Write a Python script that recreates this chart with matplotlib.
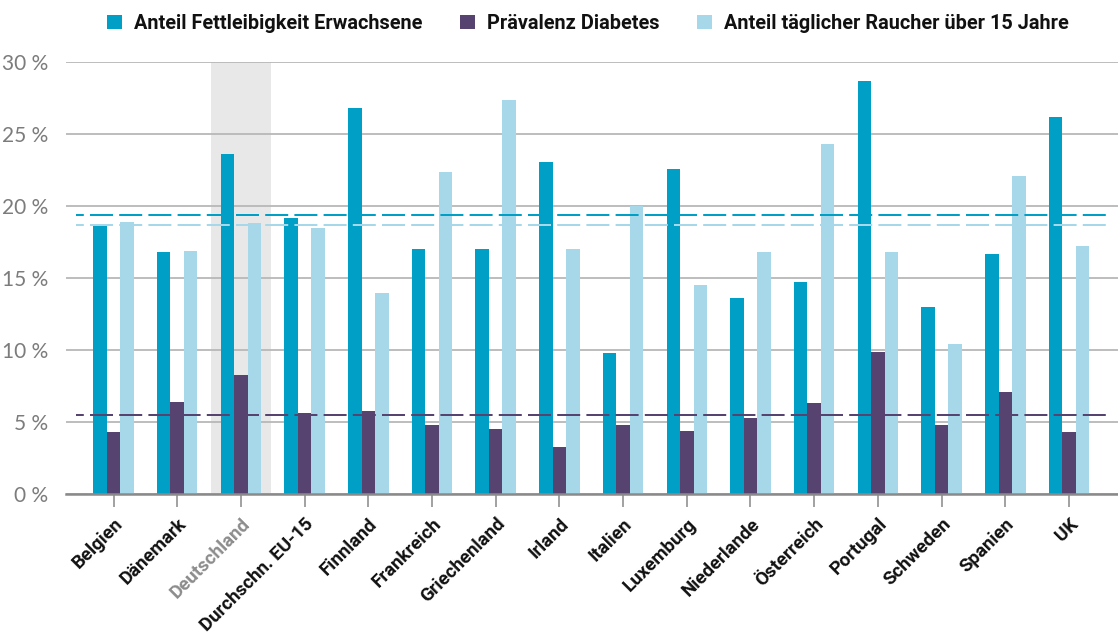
import numpy as np
import matplotlib
matplotlib.use("Agg")
import matplotlib.pyplot as plt

laender = ["Belgien", "Dänemark", "Deutschland", "Durchschn. EU-15", "Finnland",
           "Frankreich", "Griechenland", "Irland", "Italien", "Luxemburg",
           "Niederlande", "Österreich", "Portugal", "Schweden", "Spanien", "UK"]

fettleibigkeit = [18.6, 16.8, 23.6, 19.2, 26.8, 17.0, 17.0, 23.1, 9.8, 22.6,
                  13.6, 14.7, 28.7, 13.0, 16.7, 26.2]
diabetes = [4.3, 6.4, 8.3, 5.6, 5.8, 4.8, 4.5, 3.3, 4.8, 4.4,
            5.3, 6.3, 9.9, 4.8, 7.1, 4.3]
raucher = [18.9, 16.9, 18.8, 18.5, 14.0, 22.4, 27.4, 17.0, 20.0, 14.5,
           16.8, 24.3, 16.8, 10.4, 22.1, 17.2]

# Referenzlinien (EU-15-Durchschnitt)
ref_fett = 19.4
ref_raucher = 18.7
ref_diabetes = 5.5

serien = ["Anteil Fettleibigkeit Erwachsene", "Prävalenz Diabetes",
          "Anteil täglicher Raucher über 15 Jahre"]
farben = ["#00A0C6", "#574370", "#A6D8EA"]
y_ticks = [0, 5, 10, 15, 20, 25, 30]

bold_font = ["Roboto", "DejaVu Sans"]
light_font = ["Lato", "DejaVu Sans"]

fig = plt.figure(figsize=(11.18, 6.39), dpi=100)
ax = fig.add_axes([66 / 1118, 145 / 639, 1052 / 1118, (494 - 62.3) / 639])

x = np.arange(len(laender))
w = 0.212

# Hervorhebung Deutschland
i_de = laender.index("Deutschland")
ax.axvspan(i_de - 0.47, i_de + 0.47, color="#E8E8E8", zorder=0, lw=0)

bars = []
for k, (werte, farbe) in enumerate(zip([fettleibigkeit, diabetes, raucher], farben)):
    b = ax.bar(x + (k - 1) * w, werte, width=w, color=farbe, zorder=2, lw=0)
    bars.append(b)

# gestrichelte Durchschnittslinien
lw = 2.0 * 72 / 100
ls = (7.6, (11.5, 3.1))
for wert, farbe in [(ref_fett, farben[0]), (ref_raucher, farben[2]), (ref_diabetes, farben[1])]:
    ax.plot([-0.59, 15.59], [wert, wert], color=farbe, lw=lw, linestyle=ls, zorder=3)

ax.set_xlim(-0.746, 15.77)
ax.set_ylim(0, 30)
ax.set_yticks(y_ticks)
ax.set_yticklabels([f"{t} %" for t in y_ticks], family=light_font, fontweight="normal",
                   fontsize=15, color="#7C7C7C")
ax.yaxis.grid(True, color="#B8B8B8", lw=1.3, zorder=1)
ax.set_axisbelow(True)
ax.tick_params(axis="y", length=0, pad=13)

ax.set_xticks(x)
ax.set_xticklabels(laender, rotation=45, ha="right", rotation_mode="anchor",
                   family=bold_font, fontweight="bold", fontsize=13.5, color="#111111")
ax.get_xticklabels()[i_de].set_color("#8C8C8C")
ax.tick_params(axis="x", length=9, width=1.3, color="#9A9A9A", pad=6)

for s in ["top", "right", "left"]:
    ax.spines[s].set_visible(False)
ax.spines["bottom"].set_color("#8A8A8A")
ax.spines["bottom"].set_linewidth(1.8)

leg = ax.legend(bars, serien, ncol=3, loc="center left", bbox_to_anchor=(0.022, 1.09),
                frameon=False, handlelength=0.75, handleheight=0.75, handletextpad=0.6,
                columnspacing=1.9, prop={"family": bold_font, "weight": "bold", "size": 14.3})
for t in leg.get_texts():
    t.set_color("#111111")

fig.savefig("out.png", dpi=100)
